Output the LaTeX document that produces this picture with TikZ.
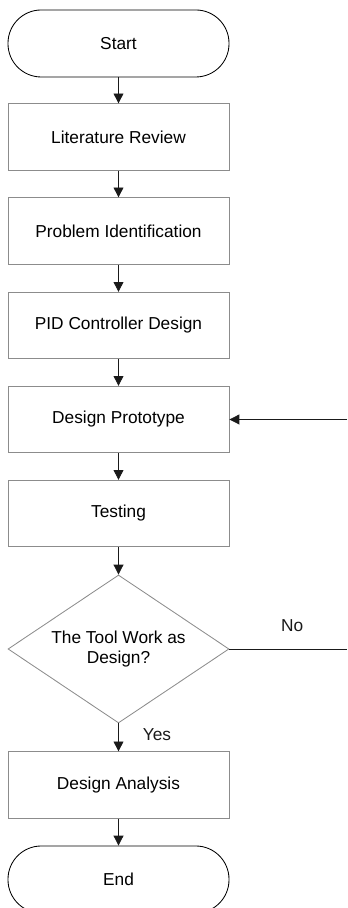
\documentclass[tikz,border=0pt]{standalone}
\usepackage{fontspec}
\setmainfont{Liberation Sans}
\usepackage{tikz}
\usetikzlibrary{arrows.meta,shapes.geometric}
\definecolor{boxgray}{HTML}{8C8C8C}
\definecolor{linegray}{HTML}{1A1A1A}

\begin{document}
\begin{tikzpicture}[
    font=\fontsize{12.3pt}{14.2pt}\selectfont,
    stepbox/.style={draw=boxgray,line width=0.6pt,minimum width=5.525cm,minimum height=1.66cm,inner sep=0pt},
    terminal/.style={draw=black,line width=0.6pt,rounded corners=0.83cm,minimum width=5.525cm,minimum height=1.675cm,inner sep=0pt},
    decision/.style={diamond,aspect=1.493,draw=boxgray,line width=0.6pt,minimum width=5.525cm,minimum height=3.7cm,inner sep=0pt,align=center},
    flow/.style={-{Triangle[length=7pt,width=7pt]},linegray,line width=0.6pt}
  ]
  \useasboundingbox (0,0) rectangle (8.675,22.7);

  % Hauptablauf
  \node[terminal] (start) at (2.9625,21.6125) {Start};
  \node[stepbox] (review) at (2.9625,19.275) {Literature Review};
  \node[stepbox] (problem) at (2.9625,16.925) {Problem Identification};
  \node[stepbox] (pid) at (2.9625,14.5625) {PID Controller Design};
  \node[stepbox] (proto) at (2.9625,12.2125) {Design Prototype};
  \node[stepbox] (test) at (2.9625,9.8625) {Testing};
  \node[decision] (check) at (2.9625,6.475) {The Tool Work as\\Design?};
  \node[stepbox] (analysis) at (2.9625,3.075) {Design Analysis};
  \node[terminal] (end) at (2.9625,0.7125) {End};

  \draw[flow] (start) -- (review);
  \draw[flow] (review) -- (problem);
  \draw[flow] (problem) -- (pid);
  \draw[flow] (pid) -- (proto);
  \draw[flow] (proto) -- (test);
  \draw[flow] (test) -- (check);
  \draw[flow] (check) -- (analysis) node[pos=0.4,right=0.6cm,inner sep=0pt] {Yes};
  \draw[flow] (analysis) -- (end);

  % Rueckfuehrung (No)
  \coordinate (noend) at (8.675,6.475);
  \coordinate (back) at (8.675,12.2125);
  \draw[linegray,line width=0.6pt] (check.east) -- (noend) node[midway,above=0.42cm,xshift=0.1cm,inner sep=0pt] {No};
  \draw[flow] (back) -- (proto.east);
\end{tikzpicture}
\end{document}
